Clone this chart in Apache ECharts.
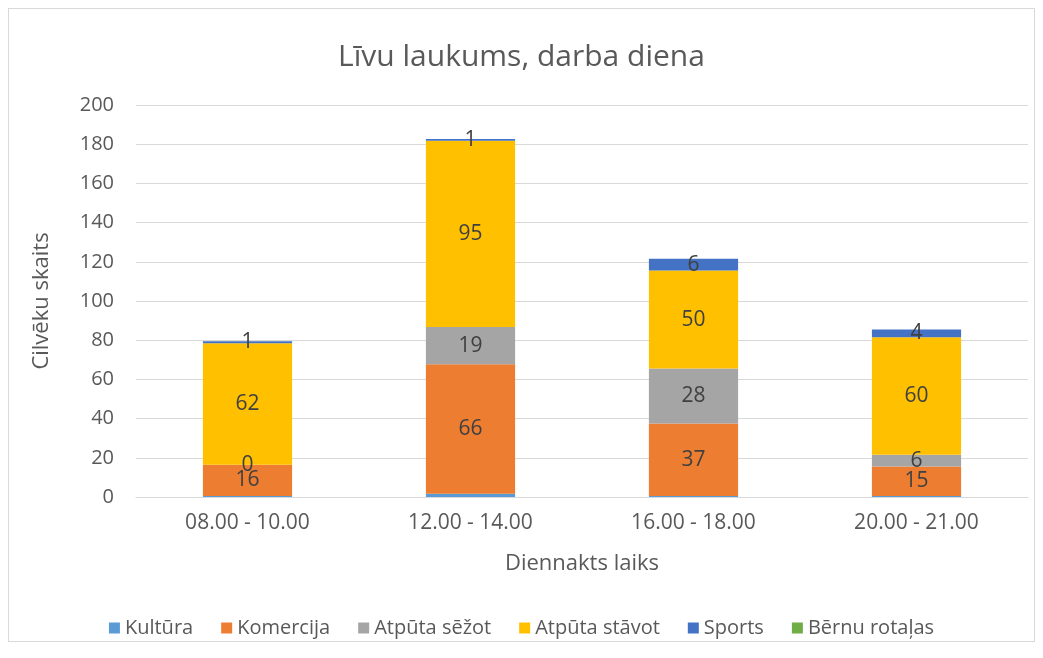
<!DOCTYPE html>
<html>
<head>
<meta charset="utf-8">
<script src="https://cdn.jsdelivr.net/npm/echarts@6/dist/echarts.min.js"></script>
<style>
    body { margin: 0; background: #fff; }
    #main {
        position: absolute;
        left: 8px; top: 8px;
        width: 1027px; height: 634px;
        border: 1px solid #d9d9d9;
        box-sizing: border-box;
    }
</style>
</head>
<body>
<div id="main"></div>
<script>
var categories = ['08.00 - 10.00', '12.00 - 14.00', '16.00 - 18.00', '20.00 - 21.00'];
var kultura = [0.5, 1.7, 0.5, 0.5];
var komercija = [16, 66, 37, 15];
var atputaSezot = [0, 19, 28, 6];
var atputaStavot = [62, 95, 50, 60];
var sports = [1, 1, 6, 4];
var bernuRotalas = [0, 0, 0, 0];

var textColor = '#595959';
var font = '"Open Sans", "Noto Sans", sans-serif';

function bar(name, data, color, showLabel) {
    return {
        name: name,
        type: 'bar',
        stack: 'total',
        data: data,
        barWidth: '40%',
        itemStyle: { color: color },
        label: {
            show: showLabel,
            position: 'inside',
            color: '#404040',
            fontSize: 21,
            fontFamily: font
        }
    };
}

var chart = echarts.init(document.getElementById('main'));
chart.setOption({
    animation: false,
    textStyle: { fontFamily: font },
    title: {
        text: 'Līvu laukums, darba diena',
        left: 'center',
        top: 28,
        textStyle: { fontSize: 30, fontWeight: 'normal', color: textColor, fontFamily: font }
    },
    grid: { left: 127, right: 6, top: 96, bottom: 144 },
    legend: {
        bottom: 3,
        padding: 0,
        left: 'center',
        itemWidth: 11,
        itemHeight: 11,
        itemGap: 28,
        icon: 'rect',
        textStyle: { fontSize: 20, color: textColor, fontFamily: font },
        data: ['Kultūra', 'Komercija', 'Atpūta sēžot', 'Atpūta stāvot', 'Sports', 'Bērnu rotaļas']
    },
    xAxis: {
        type: 'category',
        data: categories,
        name: 'Diennakts laiks',
        nameLocation: 'middle',
        nameGap: 56,
        nameTextStyle: { fontSize: 22, color: textColor },
        axisLine: { lineStyle: { color: '#d9d9d9' } },
        axisTick: { show: false },
        axisLabel: { fontSize: 21, color: textColor, margin: 16 }
    },
    yAxis: {
        type: 'value',
        min: 0,
        max: 200,
        interval: 20,
        name: 'Cilvēku skaits',
        nameLocation: 'middle',
        nameGap: 83,
        nameTextStyle: { fontSize: 22, color: textColor },
        axisLine: { show: false },
        axisTick: { show: false },
        axisLabel: { fontSize: 20, color: textColor, margin: 22 },
        splitLine: { lineStyle: { color: '#d9d9d9' } }
    },
    series: [
        bar('Kultūra', kultura, '#5B9BD5', false),
        bar('Komercija', komercija, '#ED7D31', true),
        bar('Atpūta sēžot', atputaSezot, '#A5A5A5', true),
        bar('Atpūta stāvot', atputaStavot, '#FFC000', true),
        bar('Sports', sports, '#4472C4', true),
        bar('Bērnu rotaļas', bernuRotalas, '#70AD47', false)
    ]
});
</script>
</body>
</html>
